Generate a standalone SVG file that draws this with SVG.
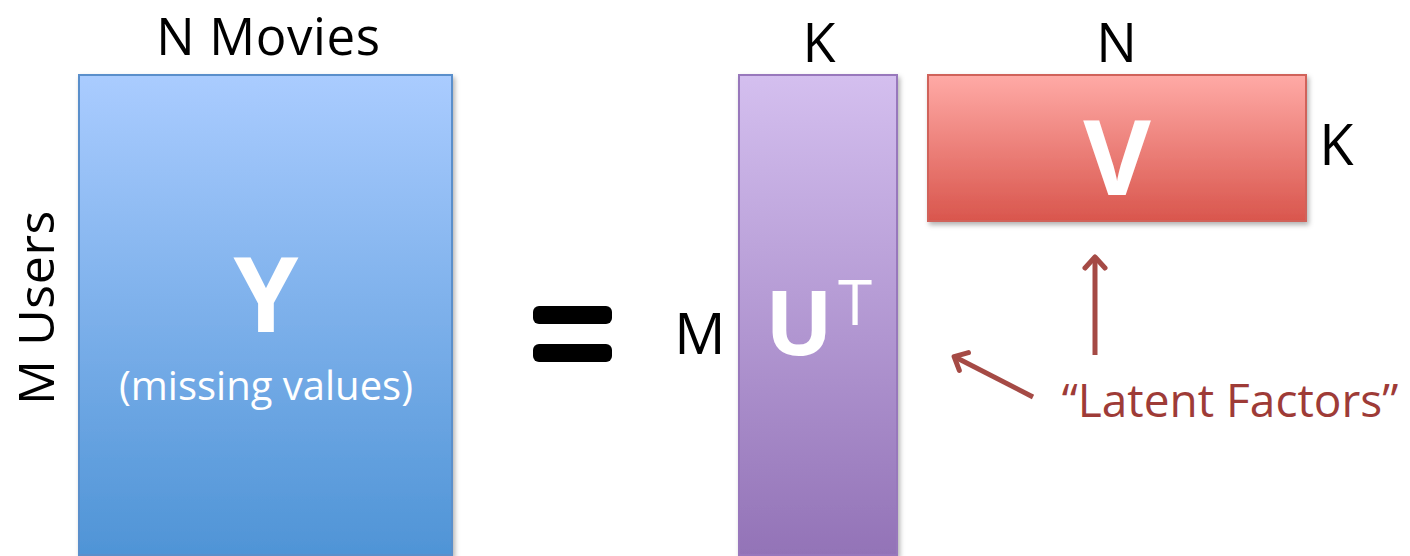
<svg xmlns="http://www.w3.org/2000/svg" width="1410" height="556" viewBox="0 0 1410 556">
<defs>
<linearGradient id="gY" x1="0" y1="0" x2="0" y2="1"><stop offset="0" stop-color="#AACCFF"/><stop offset="1" stop-color="#4F94D6"/></linearGradient>
<linearGradient id="gU" x1="0" y1="0" x2="0" y2="1"><stop offset="0" stop-color="#D4BFEF"/><stop offset="1" stop-color="#9373B7"/></linearGradient>
<linearGradient id="gV" x1="0" y1="0" x2="0" y2="1"><stop offset="0" stop-color="#FFAAA6"/><stop offset="1" stop-color="#D9564D"/></linearGradient>
<filter id="sh" x="-5%" y="-5%" width="115%" height="115%"><feDropShadow dx="2" dy="3" stdDeviation="2.5" flood-color="#000" flood-opacity="0.3"/></filter>
<marker id="ah" markerWidth="12" markerHeight="12" refX="6" refY="6" orient="auto" markerUnits="userSpaceOnUse" viewBox="0 0 12 12" overflow="visible">
<path d="M-10,-10 L1,0 L-10,10" transform="translate(6,6)" fill="none" stroke="#A54A45" stroke-width="5" stroke-linecap="round" stroke-linejoin="round"/>
</marker>
</defs>
<style>
.lbl{font-family:"Open Sans","Liberation Sans",sans-serif;fill:#000}
.big{font-family:"Open Sans","Liberation Sans",sans-serif;fill:#fff;font-weight:bold}
.wht{font-family:"Open Sans","Liberation Sans",sans-serif;fill:#fff}
.red{font-family:"Open Sans","Liberation Sans",sans-serif;fill:#9E3B37}
.conn{stroke:#A54A45;stroke-width:5;fill:none}
</style>
<rect width="1410" height="556" fill="#fff"/>
<g id="Y">
<rect x="79" y="75" width="373" height="480" fill="url(#gY)" stroke="#5A8FCB" stroke-width="2" filter="url(#sh)"/>
<text class="big" x="266" y="332" font-size="104" text-anchor="middle">Y</text>
<text class="wht" x="266" y="400" font-size="40" text-anchor="middle">(missing values)</text>
</g>
<g id="U">
<rect x="739" y="75" width="158" height="480" fill="url(#gU)" stroke="#9878BC" stroke-width="2" filter="url(#sh)"/>
<text class="big" x="799" y="355" font-size="90" text-anchor="middle">U</text>
<text class="wht" x="855" y="325" font-size="62" text-anchor="middle">T</text>
</g>
<g id="V">
<rect x="928" y="75" width="378" height="146" fill="url(#gV)" stroke="#D0625A" stroke-width="2" filter="url(#sh)"/>
<text class="big" x="1117" y="195" font-size="104" text-anchor="middle">V</text>
</g>
<g id="labels">
<text class="lbl" x="268.5" y="55" font-size="51" text-anchor="middle" letter-spacing="0.6">N Movies</text>
<text class="lbl" transform="translate(54,307.5) rotate(-90)" font-size="50" text-anchor="middle" letter-spacing="0.6">M Users</text>
<text class="lbl" x="819" y="62" font-size="54" text-anchor="middle">K</text>
<text class="lbl" x="1116.5" y="62" font-size="54" text-anchor="middle">N</text>
<text class="lbl" x="1336.5" y="165" font-size="56" text-anchor="middle">K</text>
<text class="lbl" x="700" y="354" font-size="57" text-anchor="middle">M</text>
</g>
<g id="equals">
<rect x="533" y="306" width="79" height="18" rx="6" fill="#000"/>
<rect x="533" y="344" width="79" height="18" rx="6" fill="#000"/>
</g>
<g id="latent">
<text class="red" x="1230" y="417" font-size="46" text-anchor="middle">“Latent Factors”</text>
</g>
<g id="connectors">
<line class="conn" x1="1095" y1="355" x2="1095" y2="258" marker-end="url(#ah)"/>
<line class="conn" x1="1033" y1="397" x2="955" y2="357" marker-end="url(#ah)"/>
</g>
</svg>
